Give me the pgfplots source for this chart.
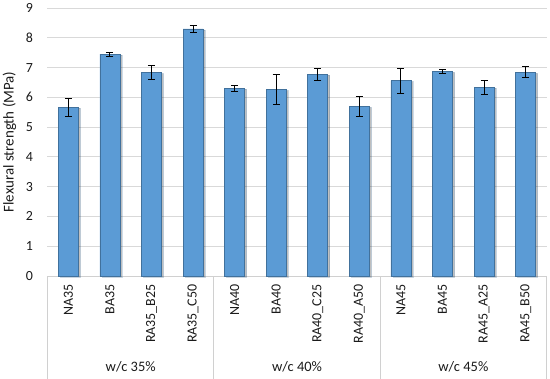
\documentclass[border=0pt]{standalone}
\usepackage{fontspec}
\setmainfont{Carlito}
\usepackage{pgfplots}
\usepackage{pgfplotstable}
\pgfplotsset{compat=1.18}
\usetikzlibrary{shadows}
\definecolor{barblue}{HTML}{5B9BD5}
\definecolor{barborder}{HTML}{41719C}
\definecolor{gridgray}{HTML}{D9D9D9}
\definecolor{sepgray}{HTML}{D0D0D0}
\definecolor{txt}{HTML}{1A1A1A}
\pgfplotstableread{
x y e
0 5.67 0.30
1 7.45 0.07
2 6.83 0.24
3 8.30 0.11
4 6.31 0.10
5 6.26 0.51
6 6.78 0.20
7 5.70 0.33
8 6.56 0.42
9 6.87 0.06
10 6.34 0.23
11 6.84 0.19
}\datatable
\begin{document}
\begin{tikzpicture}
\begin{axis}[
  scale only axis, width=499bp, height=268bp,
  xmin=-0.5, xmax=11.5, ymin=0, ymax=9,
  ytick={0,...,9},
  xtick={0,...,11},
  xticklabels={NA35,BA35,RA35\_B25,RA35\_C50,NA40,BA40,RA40\_C25,RA40\_A50,NA45,BA45,RA45\_A25,RA45\_B50},
  separate axis lines,
  axis x line*=bottom,
  axis y line*=left,
  x axis line style={sepgray, line width=0.9bp, -},
  y axis line style={draw=none},
  major tick length=0pt,
  ymajorgrids,
  grid style={gridgray, line width=0.9bp},
  /pgf/number format/assume math mode=true,
  yticklabel style={font=\fontsize{14}{16}\selectfont, color=txt, xshift=-11bp},
  xticklabel style={font=\fontsize{14}{16}\selectfont, color=txt, rotate=90, anchor=east, xshift=-5bp},
  ylabel={Flexural strength (MPa)},
  ylabel style={font=\fontsize{15}{17}\selectfont, color=txt, at={([xshift=-38bp]rel axis cs:0,0.5)}, anchor=center},
  clip=false,
]
\addplot[ybar, bar shift=0pt, bar width=20bp, fill=barblue, draw=barborder, line width=0.6bp,
  drop shadow={shadow xshift=2bp, shadow yshift=-1bp, fill=black, opacity=0.25}]
  table[x=x, y=y] {\datatable};
\addplot[draw=none, mark=none, forget plot,
  error bars/.cd, y dir=both, y explicit,
  error bar style={black, line width=1bp},
  error mark options={rotate=90, mark size=3.5bp, black, line width=1bp}]
  table[x=x, y=y, y error=e] {\datatable};
\foreach \s in {-0.5,3.5,7.5,11.5}{
  \edef\tmp{\noexpand\draw[sepgray, line width=0.9bp] (axis cs:\s,0) -- ([yshift=-103bp]axis cs:\s,0);}\tmp
}
\node[font=\fontsize{14.5}{16}\selectfont, color=txt] at ([yshift=-91bp]axis cs:1.5,0) {w/c 35\%};
\node[font=\fontsize{14.5}{16}\selectfont, color=txt] at ([yshift=-91bp]axis cs:5.5,0) {w/c 40\%};
\node[font=\fontsize{14.5}{16}\selectfont, color=txt] at ([yshift=-91bp]axis cs:9.5,0) {w/c 45\%};
\coordinate (bl) at (rel axis cs:0,0);
\coordinate (tr) at (rel axis cs:1,1);
\end{axis}
\pgfresetboundingbox
\path ([shift={(-47.5bp,-103bp)}]bl) rectangle ([shift={(3.5bp,8bp)}]tr);
\end{tikzpicture}
\end{document}
